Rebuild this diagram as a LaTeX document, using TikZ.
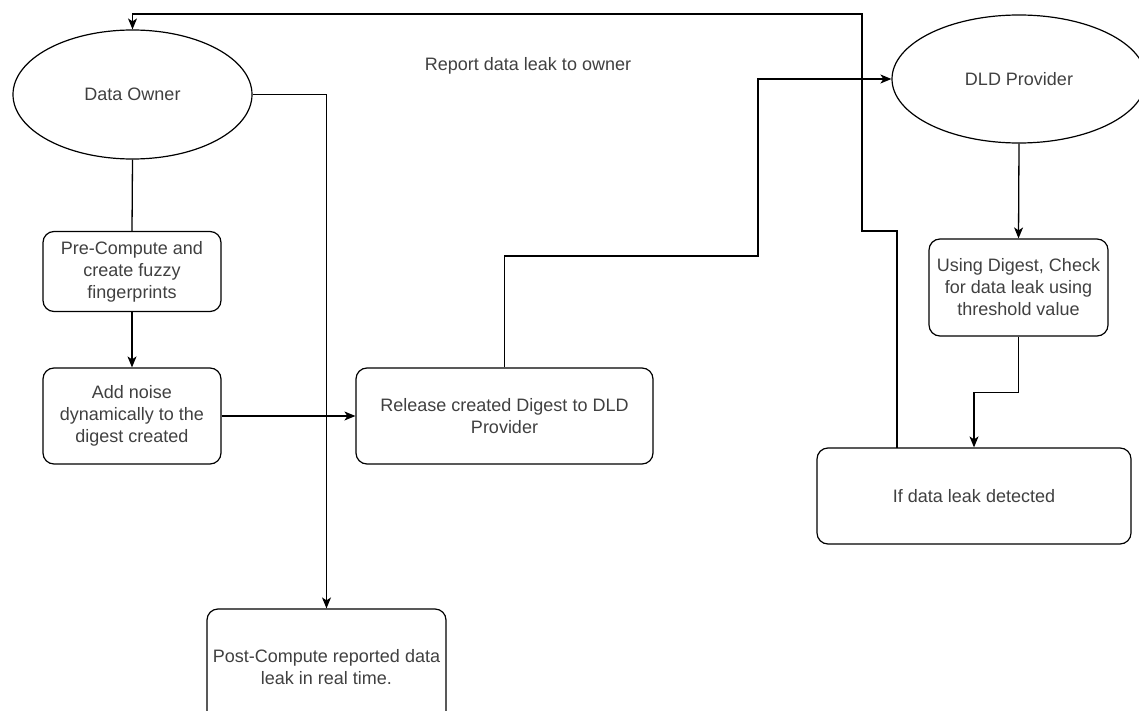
\documentclass[tikz,border=0pt]{standalone}
\usepackage{fontspec}
\setmainfont{Liberation Sans}
\usetikzlibrary{shapes.geometric,arrows.meta}
\definecolor{txt}{RGB}{64,64,64}
\tikzset{
  every node/.style={font=\fontsize{18}{22}\selectfont, text=txt, align=center},
  oval/.style={draw=black, ellipse, line width=1.2pt, inner sep=0pt},
  stepbox/.style={draw=black, rectangle, rounded corners=11pt, line width=1.2pt, inner sep=0pt},
  conn/.style={draw=black, line width=1.3pt},
  arr/.style={conn, -{Stealth[length=11pt,width=9pt,inset=3pt]}}
}
\begin{document}
\begin{tikzpicture}[x=1pt,y=-1pt]
\useasboundingbox (0,0) rectangle (1139,711);
\node[oval, minimum width=239pt, minimum height=129pt] (own) at (132.5,94.5) {Data Owner};
\node[oval, minimum width=254pt, minimum height=128pt] (dld) at (1019,79) {DLD Provider};
\node[stepbox, minimum width=178pt, minimum height=80pt] (pre) at (132,271.5) {Pre-Compute and\\create fuzzy\\fingerprints};
\node[stepbox, minimum width=178pt, minimum height=96pt] (add) at (132,416) {Add noise\\dynamically to the\\digest created};
\node[stepbox, minimum width=297pt, minimum height=96pt] (rel) at (504.5,416) {Release created Digest to DLD\\Provider};
\node[stepbox, minimum width=179pt, minimum height=97pt] (dig) at (1018.5,287.5) {Using Digest, Check\\for data leak using\\threshold value};
\node[stepbox, minimum width=314pt, minimum height=96pt] (ifd) at (974,496) {If data leak detected};
\node[stepbox, minimum width=239pt, minimum height=116pt] (post) at (326.5,667) {Post-Compute reported data\\leak in real time.};
\node (lbl) at (528,66) {Report data leak to owner};
\coordinate (b1) at (758,256);
\coordinate (ifup) at (897,448);
% connectors
\draw[conn] (own.south) -- (pre.north);
\draw[arr] (pre.south) -- (add.north);
\draw[arr] (add.east) -- (rel.west);
\draw[arr] (own.east) -| (post.north);
\draw[arr] (rel.north) |- (b1) -- (b1 |- dld.west) -- (dld.west);
\draw[arr] (dld.south) -- (dig.north);
\draw[arr] (dig.south) -- ++(0,56) -| (ifd.north);
\draw[arr] (ifup) -- (897,231) -- (862,231) -- (862,14) -- (own.north |- 0,14) -- (own.north);
\end{tikzpicture}
\end{document}
